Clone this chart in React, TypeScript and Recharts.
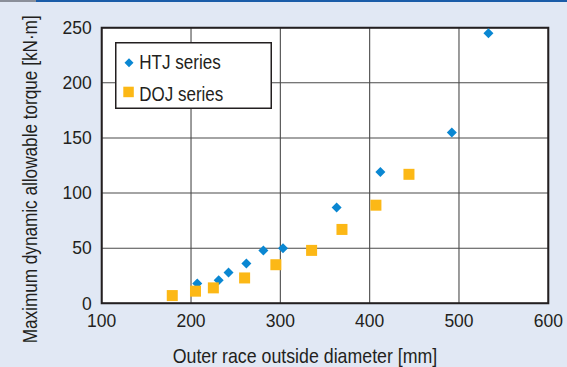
import React from 'react';
import { ScatterChart, Scatter, XAxis, YAxis, CartesianGrid, Legend, ReferenceArea } from 'recharts';

const htjDiameter = [207, 231, 242, 262, 281, 303, 363, 412, 492, 533];
const htjTorque = [18, 21, 28, 36, 48, 50, 87, 119, 155, 245];
const dojDiameter = [179, 205, 225, 260, 295, 335, 369, 407, 444];
const dojTorque = [7, 11, 14, 23, 35, 48, 67, 89, 117];
const xTicks = [100, 200, 300, 400, 500, 600];
const yTicks = [0, 50, 100, 150, 200, 250];
const seriesNames = ['HTJ series', 'DOJ series'];
const xTitle = 'Outer race outside diameter [mm]';
const yTitle = 'Maximum dynamic allowable torque [kN·m]';

const htjData = htjDiameter.map((d, i) => ({ x: d, y: htjTorque[i] }));
const dojData = dojDiameter.map((d, i) => ({ x: d, y: dojTorque[i] }));

const BLUE = '#0a87d2';
const ORANGE = '#fcb816';
const BG = '#e1e8f4';
const INK = '#231f20';
const SANS = '"Liberation Sans", Arial, sans-serif';

const Diamond = (props: any) => {
  const { cx, cy } = props;
  const r = 5;
  return <path d={`M${cx},${cy - r}L${cx + r},${cy}L${cx},${cy + r}L${cx - r},${cy}Z`} fill={BLUE} />;
};

const Square = (props: any) => {
  const { cx, cy } = props;
  const s = 11;
  return <rect x={cx - s / 2} y={cy - s / 2} width={s} height={s} fill={ORANGE} />;
};

const renderLegend = () => (
  <svg width={157} height={67} style={{ display: 'block' }}>
    <rect x={0.75} y={0.75} width={155.5} height={65.5} fill="#fff" stroke={INK} strokeWidth={1.5} />
    <path d="M14,16.2L18.5,20.7L14,25.2L9.5,20.7Z" fill={BLUE} />
    <text x={24.3} y={27.3} fontFamily={SANS} fontSize={21} fill={INK} textLength={81.4} lengthAdjust="spacingAndGlyphs">
      {seriesNames[0]}
    </text>
    <rect x={8.3} y={44.7} width={10.5} height={10.5} fill={ORANGE} />
    <text x={24.3} y={59} fontFamily={SANS} fontSize={21} fill={INK} textLength={84} lengthAdjust="spacingAndGlyphs">
      {seriesNames[1]}
    </text>
  </svg>
);

const YTitle = () => (
  <text
    x={36.7}
    y={343.3}
    transform="rotate(-90 36.7 343.3)"
    textAnchor="start"
    fontFamily={SANS}
    fontSize={21}
    fill={INK}
    textLength={328}
    lengthAdjust="spacingAndGlyphs"
  >
    {yTitle}
  </text>
);

const XTitle = () => (
  <text
    x={172.7}
    y={363.3}
    textAnchor="start"
    fontFamily={SANS}
    fontSize={21}
    fill={INK}
    textLength={264.6}
    lengthAdjust="spacingAndGlyphs"
  >
    {xTitle}
  </text>
);

export default function App() {
  return (
    <div style={{ position: 'absolute', left: 0, top: 0, width: 567, height: 367, background: BG, overflow: 'hidden' }}>
      <div style={{ position: 'absolute', left: 0, top: 0, width: 36, height: 2, background: '#8a8f99' }} />
      <div style={{ position: 'absolute', left: 36, top: 0, width: 531, height: 2, background: '#1a5ca8' }} />
      <ScatterChart width={567} height={367} margin={{ top: 27.7, right: 18.7, bottom: 20, left: 31.7 }}>
        <CartesianGrid stroke="#4a4a4a" strokeWidth={1.1} fill="#ffffff" />
        <XAxis
          type="number"
          dataKey="x"
          domain={[100, 600]}
          ticks={xTicks}
          axisLine={false}
          tickLine={false}
          tickMargin={5}
          height={43.7}
          tick={{ fontFamily: SANS, fontSize: 17.5, fill: INK }}
          label={<XTitle />}
          allowDataOverflow
        />
        <YAxis
          type="number"
          dataKey="y"
          domain={[0, 250]}
          ticks={yTicks}
          axisLine={false}
          tickLine={false}
          tickMargin={4}
          width={70}
          tick={{ fontFamily: SANS, fontSize: 17.5, fill: INK }}
          label={<YTitle />}
          allowDataOverflow
        />
        <ReferenceArea x1={100} x2={600} y1={0} y2={250} fill="none" stroke={INK} strokeWidth={2} strokeOpacity={1} fillOpacity={0} ifOverflow="visible" />
        <Legend
          layout="vertical"
          align="center"
          verticalAlign="middle"
          content={renderLegend}
          wrapperStyle={{
            position: 'absolute',
            left: 115,
            top: 42,
            width: 157,
            height: 67,
            margin: 0,
            padding: 0,
          }}
        />
        <Scatter name={seriesNames[0]} data={htjData} fill={BLUE} shape={Diamond} isAnimationActive={false} />
        <Scatter name={seriesNames[1]} data={dojData} fill={ORANGE} shape={Square} isAnimationActive={false} />
      </ScatterChart>
    </div>
  );
}
